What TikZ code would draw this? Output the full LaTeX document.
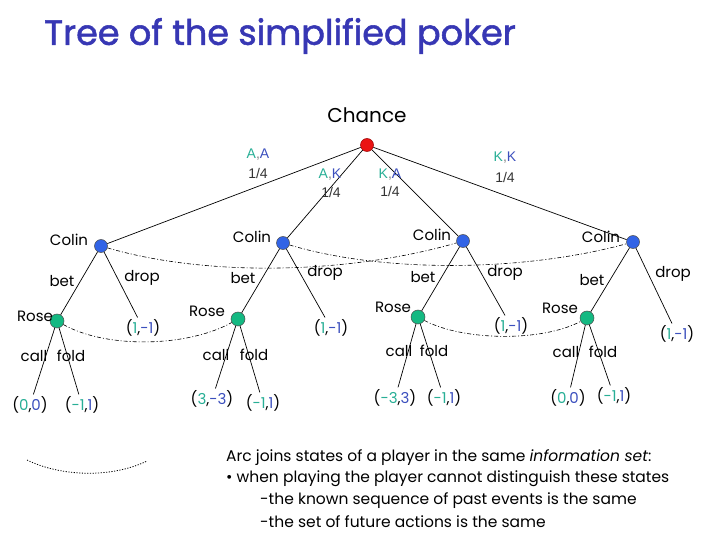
\documentclass[tikz,border=0pt]{standalone}
\usepackage{fontspec}
\setmainfont{Poppins}
\newfontfamily\arialf{Liberation Sans}
\newfontfamily\titlef[FakeBold=1.5]{Poppins}
\definecolor{cteal}{RGB}{40,175,150}
\definecolor{cblu}{RGB}{60,80,190}
\definecolor{nodeblue}{RGB}{50,100,230}
\definecolor{nodegreen}{RGB}{20,185,130}
\definecolor{nodered}{RGB}{235,20,20}
\definecolor{titleblue}{RGB}{55,55,180}
\newcommand\payoffpair[2]{(\textcolor{cteal}{#1},\textcolor{cblu}{#2})}
\newcommand\cardpair[2]{\textcolor{cteal}{#1}\textcolor{gray}{,}\textcolor{cblu}{#2}}
\begin{document}
\begin{tikzpicture}[x=1pt,y=-1pt,
  chancenode/.style={circle,fill=nodered,draw=red!60!black,line width=0.5pt,minimum size=13pt,inner sep=0pt},
  colinnode/.style={circle,fill=nodeblue,draw=black!70,line width=0.5pt,minimum size=13pt,inner sep=0pt},
  rosenode/.style={circle,fill=nodegreen,draw=black!70,line width=0.5pt,minimum size=14pt,inner sep=0pt},
  lbl/.style={font=\fontsize{15}{17}\selectfont,inner sep=1pt},
  pay/.style={font=\fontsize{15}{17}\selectfont,inner sep=2pt},
  prob/.style={font=\arialf\fontsize{14}{16}\selectfont,text=black!80,inner sep=0pt},
  treeedge/.style={draw=black,line width=0.7pt},
  infoset/.style={draw=black,line width=0.6pt,dash pattern=on 4pt off 2pt on 1pt off 2pt},
  bodytext/.style={font=\fontsize{15.5}{18}\selectfont,anchor=west,inner sep=0pt}
]
\fill[white] (0,0) rectangle (720,540);
\useasboundingbox (0,0) rectangle (720,540);

% title
\node[anchor=west,inner sep=0pt,text=titleblue,font=\titlef\fontsize{35}{40}\selectfont] (title) at (44,36) {Tree of the simplified poker};

% chance
\node[font=\fontsize{20}{22}\selectfont] (chl) at (367,115) {Chance};
\node[chancenode] (root) at (367,145) {};

% Colin nodes
\node[colinnode] (c1) at (101,246) {};
\node[colinnode] (c2) at (283,243) {};
\node[colinnode] (c3) at (463,241) {};
\node[colinnode] (c4) at (633,242) {};
\node[lbl] (c1l) at (69,240) {Colin};
\node[lbl] (c2l) at (252,237) {Colin};
\node[lbl] (c3l) at (432,235) {Colin};
\node[lbl] (c4l) at (601,237) {Colin};

% Rose nodes
\node[rosenode] (r1) at (57,321) {};
\node[rosenode] (r2) at (238,319) {};
\node[rosenode] (r3) at (418,317) {};
\node[rosenode] (r4) at (587,318) {};
\node[lbl] (r1l) at (35,316) {Rose};
\node[lbl] (r2l) at (207,311) {Rose};
\node[lbl] (r3l) at (393,307) {Rose};
\node[lbl] (r4l) at (560,308) {Rose};

% payoffs
\node[pay] (p1d) at (143,328) {\payoffpair{1}{-1}};
\node[pay] (p1a) at (30,405) {\payoffpair{0}{0}};
\node[pay] (p1b) at (82,405) {\payoffpair{-1}{1}};
\node[pay] (p2d) at (331,328) {\payoffpair{1}{-1}};
\node[pay] (p2a) at (212,399) {\payoffpair{3}{-3}};
\node[pay] (p2b) at (263,403) {\payoffpair{-1}{1}};
\node[pay] (p3d) at (511,326) {\payoffpair{1}{-1}};
\node[pay] (p3a) at (395,398) {\payoffpair{-3}{3}};
\node[pay] (p3b) at (444,398) {\payoffpair{-1}{1}};
\node[pay] (p4d) at (677,334) {\payoffpair{1}{-1}};
\node[pay] (p4a) at (568,398) {\payoffpair{0}{0}};
\node[pay] (p4b) at (614,396) {\payoffpair{-1}{1}};

% chance edges
\draw[treeedge] (root) -- (c1);
\draw[treeedge] (root) -- (c2);
\draw[treeedge] (root) -- (c3);
\draw[treeedge] (root) -- (c4);

% Colin edges
\draw[treeedge] (c1) -- (r1);
\draw[treeedge] (c1) -- (p1d);
\draw[treeedge] (c2) -- (r2);
\draw[treeedge] (c2) -- (p2d);
\draw[treeedge] (c3) -- (r3);
\draw[treeedge] (c3) -- (p3d);
\draw[treeedge] (c4) -- (r4);
\draw[treeedge] (c4) -- (p4d);

% Rose edges
\draw[treeedge] (r1) -- (p1a);
\draw[treeedge] (r1) -- (p1b);
\draw[treeedge] (r2) -- (p2a);
\draw[treeedge] (r2) -- (p2b);
\draw[treeedge] (r3) -- (p3a);
\draw[treeedge] (r3) -- (p3b);
\draw[treeedge] (r4) -- (p4a);
\draw[treeedge] (r4) -- (p4b);

% information sets
\draw[infoset] (c1) .. controls +(110,32) and +(-110,32) .. (c3);
\draw[infoset] (c2) .. controls +(100,30) and +(-110,30) .. (c4);
\draw[infoset] (r1) .. controls +(50,28) and +(-50,28) .. (r2);
\draw[infoset] (r3) .. controls +(45,24) and +(-45,24) .. (r4);

% probability labels
\node[prob] (e1a) at (258,155) {\cardpair{A}{A}};
\node[prob] (e1b) at (258,173) {1/4};
\node[prob] (e2a) at (330,175) {\cardpair{A}{K}};
\node[prob] (e2b) at (331,192) {1/4};
\node[prob] (e3a) at (390,175) {\cardpair{K}{A}};
\node[prob] (e3b) at (390,191) {1/4};
\node[prob] (e4a) at (505,158) {\cardpair{K}{K}};
\node[prob] (e4b) at (505,177) {1/4};

% action labels
\node[lbl] (b1) at (62,281) {bet};
\node[lbl] (b2) at (243,278) {bet};
\node[lbl] (b3) at (423,277) {bet};
\node[lbl] (b4) at (592,280) {bet};
\node[lbl] (d1) at (142,278) {drop};
\node[lbl] (d2) at (325,273) {drop};
\node[lbl] (d3) at (505,273) {drop};
\node[lbl] (d4) at (673,274) {drop};
\node[lbl] (k1) at (34,356) {call};
\node[lbl] (f1) at (71,356) {fold};
\node[lbl] (k2) at (216,355) {call};
\node[lbl] (f2) at (254,355) {fold};
\node[lbl] (k3) at (399,351) {call};
\node[lbl] (f3) at (434,351) {fold};
\node[lbl] (k4) at (566,352) {call};
\node[lbl] (f4) at (603,352) {fold};

% legend
\coordinate (la) at (27,460);
\coordinate (lb) at (147,461);
\draw[black,line width=0.8pt,dash pattern=on 1.2pt off 1.5pt] (la) .. controls +(35,17) and +(-35,17) .. (lb);
\node[bodytext] (t1) at (226,458) {Arc joins states of a player in the same \textit{information set}:};
\node[bodytext] (t2) at (226,479) {• when playing the player cannot distinguish these states};
\node[bodytext] (t3) at (260,501) {-the known sequence of past events is the same};
\node[bodytext] (t4) at (260,522) {-the set of future actions is the same};
\end{tikzpicture}
\end{document}
